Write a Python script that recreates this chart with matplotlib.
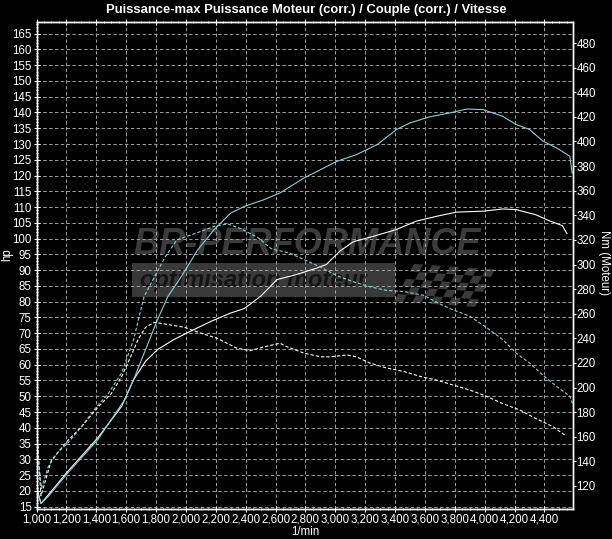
import matplotlib
matplotlib.use('Agg')
import matplotlib.pyplot as plt
from matplotlib.patches import Rectangle, Polygon
from matplotlib.ticker import MultipleLocator, FuncFormatter

plt.rcParams['font.family'] = ['Liberation Sans', 'DejaVu Sans']

# puissance (hp) - courbe cyan
rpm_cyan = [1000, 1010, 1030, 1080, 1210, 1410, 1590, 1650, 1730, 1810, 1880, 1970, 2080, 2190,
            2300, 2390, 2520, 2630, 2790, 3010, 3140, 3280, 3410, 3500, 3630, 3770, 3880,
            3990, 4120, 4210, 4300, 4390, 4480, 4570, 4585]
hp_cyan = [23.5, 19.0, 16.0, 18.3, 25.7, 36.2, 48.9, 55.3, 64.8, 74.3, 81.7, 88.0, 96.5, 102.9,
           108.1, 110.2, 112.3, 114.5, 119.2, 124.5, 126.6, 129.8, 134.6, 136.7, 138.6, 139.9, 141.1,
           140.9, 138.8, 136.2, 134.6, 130.9, 128.8, 126.1, 120.8]

# puissance (hp) - courbe blanche
rpm_white = [1000, 1010, 1030, 1080, 1210, 1410, 1570, 1650, 1730, 1810, 1920, 2030, 2170, 2300,
             2390, 2500, 2610, 2740, 2880, 2940, 3030, 3120, 3260, 3410, 3540, 3680, 3810,
             3990, 4120, 4210, 4340, 4430, 4520, 4550]
hp_white = [24.5, 19.5, 16.0, 18.8, 26.2, 36.8, 46.8, 55.3, 61.1, 64.8, 68.0, 70.6, 73.8, 76.4,
            77.8, 81.7, 87.0, 88.6, 90.7, 91.8, 96.0, 99.0, 100.8, 102.9, 105.5, 107.1, 108.4,
            108.7, 109.4, 109.2, 107.6, 105.7, 104.1, 101.6]

# couple (Nm) - courbe cyan
rpm_cyan_t = [1000, 1010, 1033, 1080, 1140, 1210, 1300, 1400, 1480, 1570, 1650, 1720, 1790, 1860,
              1940, 2080, 2190, 2280, 2370, 2480, 2570, 2700, 2790, 2900, 3010, 3120, 3230, 3340,
              3460, 3590, 3700, 3770, 3900, 4010, 4120, 4210, 4300, 4390, 4480, 4570, 4587]
nm_cyan = [170, 145, 118, 136, 147, 155, 168, 184, 195, 212, 239, 274, 290, 306,
           320, 326, 331, 333, 329, 322, 313, 309, 304, 298, 291, 286, 282, 279,
           278, 275, 268, 264, 258, 249, 239, 228, 220, 210, 201, 193, 187]

# couple (Nm) - courbe blanche
rpm_white_t = [1000, 1010, 1030, 1100, 1210, 1300, 1410, 1500, 1570, 1630, 1680, 1730, 1790, 1990,
               2080, 2210, 2340, 2430, 2520, 2630, 2680, 2790, 2900, 2970, 3080, 3140, 3230, 3340,
               3460, 3570, 3680, 3790, 3900, 4010, 4120, 4230, 4340, 4460, 4540]
nm_white = [175, 150, 112, 141, 157, 168, 184, 195, 209, 225, 239, 249, 253, 249,
            245, 240, 232, 230, 233, 236, 233, 228, 225, 225, 226.5, 225, 220, 216,
            213, 209, 206, 202, 198, 193, 187, 182, 175, 168, 161]

title = 'Puissance-max Puissance Moteur (corr.) / Couple (corr.) / Vitesse'
cyan = '#86d3d3'
grid_col = '#a0a0a0'
W, H = 612, 539
L, B, AW, AH = 36.5, 508.5, 536.5, 486.5   # cadre du graphe en pixels

fig = plt.figure(figsize=(W / 100, H / 100), dpi=100, facecolor='black')
ax = fig.add_axes([L / W, (H - B) / H, AW / W, AH / H])
ax.set_facecolor('black')
ax.set_axisbelow(True)
ax2 = ax.twinx()

ax.set_xlim(1000, 4591)
ax.set_ylim(14.4, 168.7)
ax2.set_ylim(101.7, 497.1)

# coordonnees pixel -> fraction des axes
def px(x):
    return (x - L) / AW

def py(y):
    return (B - y) / AH

# filigrane
ax.text(px(133), py(245), 'BR-PERFORMANCE', fontsize=26, fontweight='bold', style='italic',
        color='#3c3c3c', ha='left', va='center', transform=ax.transAxes, zorder=0.2)
ax.add_patch(Rectangle((px(132), py(297)), px(395) - px(132), py(263) - py(297),
                       transform=ax.transAxes, color='#393939', zorder=0.1, lw=0))
ax.text(px(140), py(281), 'optimisation moteur', fontsize=17, fontweight='bold',
        style='italic', color='#141414', ha='left', va='center', transform=ax.transAxes,
        zorder=0.3)
# drapeau a damier
cw, ch, sh = 9, 7.5, 4
for r in range(5):
    for c in range(9):
        if (r + c) % 2 == 0:
            x0 = 398 + c * cw + (4 - r) * sh
            y0 = 264 + r * ch + c * 0.6
            pts = [(x0, y0), (x0 + cw, y0 + 0.6), (x0 + cw - sh, y0 + ch + 0.6), (x0 - sh, y0 + ch)]
            ax.add_patch(Polygon([(px(a), py(b)) for a, b in pts], closed=True,
                                 transform=ax.transAxes, color='#3a3a3a', zorder=0.1, lw=0))

# grille
ax.xaxis.set_major_locator(MultipleLocator(200))
ax.xaxis.set_minor_locator(MultipleLocator(50))
ax.yaxis.set_major_locator(MultipleLocator(5))
ax.yaxis.set_minor_locator(MultipleLocator(1))
ax2.yaxis.set_major_locator(MultipleLocator(20))
ax.xaxis.set_major_formatter(FuncFormatter(lambda v, p: '{:,.0f}'.format(v)))
ax.grid(True, which='major', color=grid_col, linestyle=(0, (3.5, 2.5)), linewidth=0.7)

# courbes
ax.plot(rpm_white, hp_white, color='white', lw=0.8, zorder=3)
ax.plot(rpm_cyan, hp_cyan, color=cyan, lw=0.8, zorder=3)
ax2.plot(rpm_white_t, nm_white, color='white', lw=0.8, linestyle=(0, (3, 1.8)))
ax2.plot(rpm_cyan_t, nm_cyan, color=cyan, lw=0.8, linestyle=(0, (3, 1.8)))

for a in (ax, ax2):
    for s in a.spines.values():
        s.set_color('white')
        s.set_linewidth(1)

ax.tick_params(axis='both', which='major', colors='white', labelsize=8.3, length=4,
               direction='inout', pad=1.5)
ax.tick_params(axis='both', which='minor', colors='white', length=2, direction='inout')
ax.tick_params(axis='x', top=True, which='both')
ax2.tick_params(axis='y', colors='white', labelsize=8.3, length=2, direction='out', pad=0.5)

ax.set_xlabel('1/min', color='white', fontsize=8.3, va='center')
ax.xaxis.set_label_coords(px(305), py(532))
ax.set_ylabel('hp', color='white', fontsize=8.3, va='center')
ax.yaxis.set_label_coords(px(7), py(255))
ax2.set_ylabel('Nm (Moteur)', color='white', fontsize=8.3, rotation=270, va='center')
ax2.yaxis.set_label_coords(px(604), py(262))

fig.text(0.5, 1 - 9.5 / H, title, color='white', fontsize=9.4, fontweight='bold',
         ha='center', va='center')

fig.savefig('out.png', dpi=100, facecolor='black')
